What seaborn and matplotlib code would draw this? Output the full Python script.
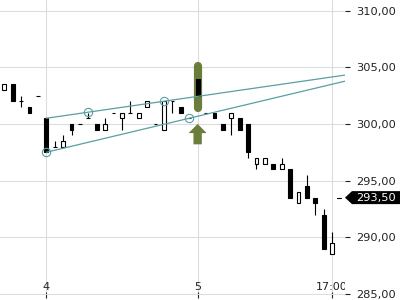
import numpy as np
import pandas as pd
import matplotlib
matplotlib.use("Agg")
import matplotlib.pyplot as plt
from matplotlib.path import Path
from matplotlib.ticker import FuncFormatter
import seaborn as sns

# ---------------- data ----------------
candle_idx = list(range(-5, 35))
opens = [303.0, 303.5, 302.0, 301.5, 302.5,
         300.5, 298.0, 298.0, 300.0, 300.0, 300.5, 300.0, 299.5, 301.0, 300.5,
         301.0, 300.5, 301.5, 300.0, 299.5, 302.0, 301.5, 300.5, 304.0, 301.0,
         301.0, 300.0, 300.5, 300.5, 300.0, 296.5, 296.5, 296.5, 296.0, 296.0,
         293.0, 294.5, 293.5, 292.0, 288.5]
closes = [303.5, 302.0, 302.0, 301.0, 302.5,
          297.5, 298.0, 298.5, 299.5, 300.0, 300.5, 299.5, 300.0, 301.0, 301.0,
          301.0, 301.0, 302.0, 300.0, 302.0, 302.0, 301.0, 300.5, 302.5, 301.0,
          300.5, 299.5, 301.0, 299.5, 297.5, 297.0, 297.0, 296.0, 296.5, 293.5,
          294.0, 293.5, 293.0, 289.0, 289.5]
highs = [303.5, 303.5, 302.5, 301.5, 302.5,
         300.5, 298.5, 299.0, 300.0, 300.0, 301.0, 300.0, 300.5, 301.0, 301.0,
         302.0, 301.0, 302.0, 300.0, 302.0, 302.0, 301.5, 300.5, 304.0, 301.0,
         301.0, 300.0, 301.0, 300.5, 300.0, 297.0, 297.0, 296.5, 297.0, 296.0,
         294.0, 295.5, 293.5, 292.5, 290.5]
lows = [303.0, 302.0, 301.5, 301.0, 302.5,
        297.5, 298.0, 298.0, 299.0, 300.0, 300.5, 299.5, 299.5, 301.0, 299.5,
        301.0, 300.5, 301.5, 300.0, 299.5, 301.0, 301.0, 300.5, 302.5, 301.0,
        300.5, 299.5, 299.0, 299.5, 297.0, 296.0, 296.5, 296.0, 296.0, 293.5,
        293.0, 293.5, 292.0, 289.0, 288.5]

x_tick_pos = [0, 18, 34]
x_tick_labels = ["4", "5", "17:00"]
y_ticks = [285, 290, 295, 300, 305, 310]

upper_anchor_idx = [0, 14]
upper_anchor_price = [300.5, 302.0]
upper_circle_idx = [5, 14]
lower_anchor_idx = [0, 17]
lower_anchor_price = [297.5, 300.5]
lower_circle_idx = [0, 17]

signal_idx = 18
pill_price = [301.4, 305.1]
arrow_price = [298.2, 300.0]

last_price = 293.5
last_price_label = "293,50"

# ---------------- style ----------------
sns.set_theme(style="white")
plt.rcParams["font.family"] = ["DejaVu Sans"]

TEAL = "#5a9fa3"
OLIVE = "#6b7d3b"
GRID = "#dcdcdc"
TXT = "#222222"

x_min, x_max = -5.51, 35.53
y_min, y_max = 284.91, 310.93

fig = plt.figure(figsize=(4, 3), dpi=100)
ax = fig.add_axes([0, 5 / 300, 345 / 400, 295 / 300])
ax.set_facecolor("white")
for s in ax.spines.values():
    s.set_visible(False)

ax.set_xlim(x_min, x_max)
ax.set_ylim(y_min, y_max)

# grid
ax.set_xticks(x_tick_pos, x_tick_labels)
ax.set_yticks(y_ticks)
ax.grid(True, color=GRID, lw=0.8, zorder=0)
ax.set_axisbelow(True)

# signal pill
ax.plot([signal_idx, signal_idx], pill_price, color=OLIVE, lw=5.9,
        solid_capstyle="round", zorder=1.5)

# candles
df = pd.DataFrame({"i": candle_idx, "o": opens, "c": closes, "h": highs, "l": lows})
df["bottom"] = df[["o", "c"]].min(axis=1)
df["height"] = (df["c"] - df["o"]).abs()
df["face"] = np.where(df["c"] > df["o"], "white", "black")
wick = df[df["h"] > df["l"]]
ax.vlines(wick["i"], wick["l"], wick["h"], color="black", lw=0.8, zorder=2)
ax.bar(df["i"], df["height"], bottom=df["bottom"], width=0.45,
       color=df["face"], edgecolor="black", linewidth=0.8, zorder=3)

# trend lines
def line_at(idx, ax_idx, ax_price):
    slope = (ax_price[1] - ax_price[0]) / (ax_idx[1] - ax_idx[0])
    return ax_price[0] + slope * (np.asarray(idx, dtype=float) - ax_idx[0])

for a_idx, a_price, c_idx in [(upper_anchor_idx, upper_anchor_price, upper_circle_idx),
                              (lower_anchor_idx, lower_anchor_price, lower_circle_idx)]:
    xs = [a_idx[0], x_max]
    tl = pd.DataFrame({"x": xs, "y": line_at(xs, a_idx, a_price)})
    sns.lineplot(data=tl, x="x", y="y", ax=ax, color=TEAL, lw=0.9, zorder=4)
    cp = pd.DataFrame({"x": c_idx, "y": line_at(c_idx, a_idx, a_price)})
    ax.plot(cp["x"], cp["y"], ls="none", marker="o", ms=6.0, mfc="none",
            mec=TEAL, mew=0.8, zorder=5)

# signal arrow
ax.annotate("", xy=(signal_idx, arrow_price[1]), xytext=(signal_idx, arrow_price[0]),
            arrowprops=dict(arrowstyle="simple,head_length=0.55,head_width=1.08,tail_width=0.5",
                            color=OLIVE, lw=0, shrinkA=0, shrinkB=0),
            zorder=4)

# axes formatting
ax.set_xlabel("")
ax.set_ylabel("")
ax.yaxis.tick_right()
ax.yaxis.set_major_formatter(FuncFormatter(lambda v, p: f"{v:.2f}".replace(".", ",")))
ax.tick_params(axis="y", which="both", right=True, left=False, direction="out",
               length=3.6, width=0.8, color=TXT, labelsize=8.2, labelcolor=TXT, pad=4.3)
ax.tick_params(axis="x", which="both", bottom=True, direction="inout",
               length=4, width=0.8, color=TXT, labelsize=8, labelcolor=TXT, pad=-11)
for lbl in ax.get_xticklabels():
    lbl.set_clip_box(ax.bbox)
    lbl.set_clip_on(True)

# last price tag
def tag_box(x0, y0, width, height, mutation_size):
    vpad = 1.5
    y0b, y1b = y0 - vpad, y0 + height + vpad
    xl = x0 - 4
    xt = x0 - 11
    xr = x0 + width + 20
    return Path([(xl, y0b), (xr, y0b), (xr, y1b), (xl, y1b), (xt, (y0b + y1b) / 2),
                 (xl, y0b), (xl, y0b)], closed=True)

ytr = ax.get_yaxis_transform()
ax.annotate(last_price_label, xy=(1, last_price), xycoords=ytr,
            xytext=(7.9, 0), textcoords="offset points", ha="left", va="center",
            color="white", fontsize=8.2,
            bbox=dict(boxstyle=tag_box, fc="black", ec="none"),
            annotation_clip=False, zorder=10)
ax.plot([1 - 8.3 / 345, 1 - 4.3 / 345], [last_price, last_price], transform=ytr,
        color="black", lw=0.8, clip_on=False, zorder=10)

fig.savefig("out.png", dpi=100)
